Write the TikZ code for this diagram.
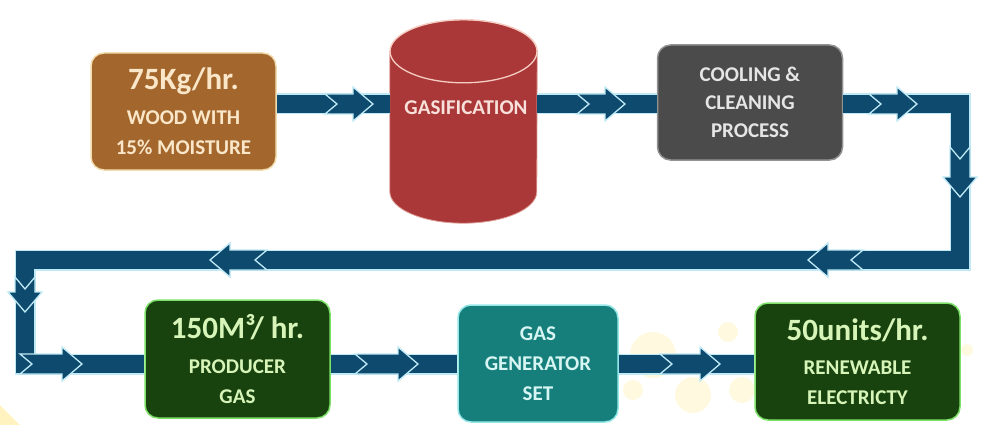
\documentclass[tikz,border=0pt]{standalone}
\usepackage{fontspec}
\setmainfont{Carlito}
\usepackage{tikz}
\usetikzlibrary{shapes.geometric, arrows.meta, positioning, calc}

\definecolor{woodbrown}{RGB}{163,103,45}
\definecolor{woodedge}{RGB}{242,221,176}
\definecolor{woodtext}{RGB}{250,230,200}
\definecolor{gasred}{RGB}{170,56,56}
\definecolor{gasedge}{RGB}{245,205,195}
\definecolor{coolgray}{RGB}{75,75,75}
\definecolor{leafgreen}{RGB}{24,66,14}
\definecolor{leafedge}{RGB}{125,225,105}
\definecolor{leaftext}{RGB}{215,245,185}
\definecolor{genteal}{RGB}{22,127,124}
\definecolor{genedge}{RGB}{150,232,232}
\definecolor{gentext}{RGB}{215,245,242}
\definecolor{bandblue}{RGB}{13,74,110}
\definecolor{bandedge}{RGB}{190,233,245}
\definecolor{glow}{RGB}{255,236,150}

% notched arrow sitting on a band: tip, angle, length
\newcommand{\flowarrow}[3]{%
  \draw[notchtip, shift={(#1)}, rotate=#2]
    (0,0) -- (-20,-17) -- (-20,-10) -- (-#3,-10) -- (-#3+12,0)
    -- (-#3,10) -- (-20,10) -- (-20,17) -- cycle;}
\newcommand{\bigline}[1]{{\fontsize{31}{30}\selectfont #1}}

\begin{document}
\begin{tikzpicture}[x=1pt, y=-1pt,
  box/.style={rectangle, rounded corners=13pt, line width=1.5pt,
    align=center, font=\fontsize{21}{30}\selectfont\bfseries,
    inner sep=0pt},
  band/.style={line width=1.5pt, draw=bandedge, double=bandblue,
    double distance=18pt, line join=miter},
  notchtip/.style={fill=bandblue, draw=bandedge, line width=1.3pt,
    line join=miter},
  bokeh/.style={fill=glow, fill opacity=0.3, draw=none}]
\useasboundingbox (0,0) rectangle (982,425);

% soft yellow spots
\fill[glow, opacity=0.6] (0,405) -- (0,425) -- (20,425) -- cycle;
\fill[bokeh] (653,355) circle (23);
\fill[bokeh] (728,332) circle (10);
\fill[bokeh] (633,390) circle (10);
\fill[bokeh] (693,395) circle (18);
\fill[bokeh] (742,390) circle (13);
\fill[bokeh] (967,350) circle (6);

% process blocks
\node[box, fill=woodbrown, draw=woodedge, text=woodtext,
  minimum width=185pt, minimum height=117pt] (wood) at (183.5,111.5)
  {\bigline{75Kg/hr.}\\[5pt] WOOD WITH\\ 15\% MOISTURE};

\node[minimum width=147pt, minimum height=203pt, inner sep=0pt]
  (gas) at (463.5,121.5) {};
\fill[gasred, draw=gasedge!70!gasred, line width=0.8pt]
  ($(gas.north west)+(0,31.5)$) -- ($(gas.south west)+(0,-31.5)$)
  arc[start angle=180, end angle=360, x radius=73.5pt, y radius=31.5pt]
  -- ($(gas.north east)+(0,31.5)$)
  arc[start angle=0, end angle=180, x radius=73.5pt, y radius=31.5pt];
\draw[gasedge, line width=1.3pt] ($(gas.north)+(0,31.5)$)
  ellipse[x radius=73.5pt, y radius=31.5pt];
\node[font=\fontsize{21}{30}\selectfont\bfseries, text=gasedge!60!white]
  (gaslabel) at (466,107.5) {GASIFICATION};

\node[box, fill=coolgray, draw=coolgray!60, text=white!90!black,
  font=\fontsize{21}{28}\selectfont\bfseries,
  minimum width=185pt, minimum height=115pt] (cool) at (750,102.5)
  {COOLING \&\\ CLEANING\\ PROCESS};
\node[box, fill=leafgreen, draw=leafedge, text=leaftext,
  minimum width=185pt, minimum height=118pt] (prod) at (237.5,359)
  {\bigline{150M³/ hr.}\\[5pt] PRODUCER\\ GAS};
\node[box, fill=genteal, draw=genedge, text=gentext,
  minimum width=160pt, minimum height=117pt] (gen) at (538,363.5)
  {GAS\\ GENERATOR\\ SET};
\node[box, fill=leafgreen, draw=leafedge, text=leaftext,
  minimum width=205pt, minimum height=117pt] (elec) at (857.5,361.5)
  {\bigline{50units/hr.}\\[4pt] RENEWABLE\\ ELECTRICTY};

% rows and columns of the flow bands
\coordinate (row1) at (0,104);
\coordinate (row2) at (0,260);
\coordinate (row3) at (0,364);
\coordinate (colR) at (960,0);
\coordinate (colL) at (25,0);

\draw[band] (wood.east |- row1) -- (gas.west |- row1);
\draw[band] (gas.east |- row1) -- (cool.west |- row1);
\draw[band] (cool.east |- row1) -- (colR |- row1) -- (colR |- row2)
  -- (colL |- row2) -- (colL |- row3) -- (prod.west |- row3);
\draw[band] (prod.east |- row3) -- (gen.west |- row3);
\draw[band] (gen.east |- row3) -- (elec.west |- row3);

% arrow heads on the bands
\flowarrow{373,104}{0}{48}
\flowarrow{625,104}{0}{48}
\flowarrow{917,104}{0}{48}
\flowarrow{960,197}{-90}{50}
\flowarrow{808,260}{180}{55}
\flowarrow{210,260}{180}{57}
\flowarrow{25,312}{-90}{35}
\flowarrow{82,364}{0}{62}
\flowarrow{418,364}{0}{63}
\flowarrow{720,364}{0}{60}
\end{tikzpicture}
\end{document}
